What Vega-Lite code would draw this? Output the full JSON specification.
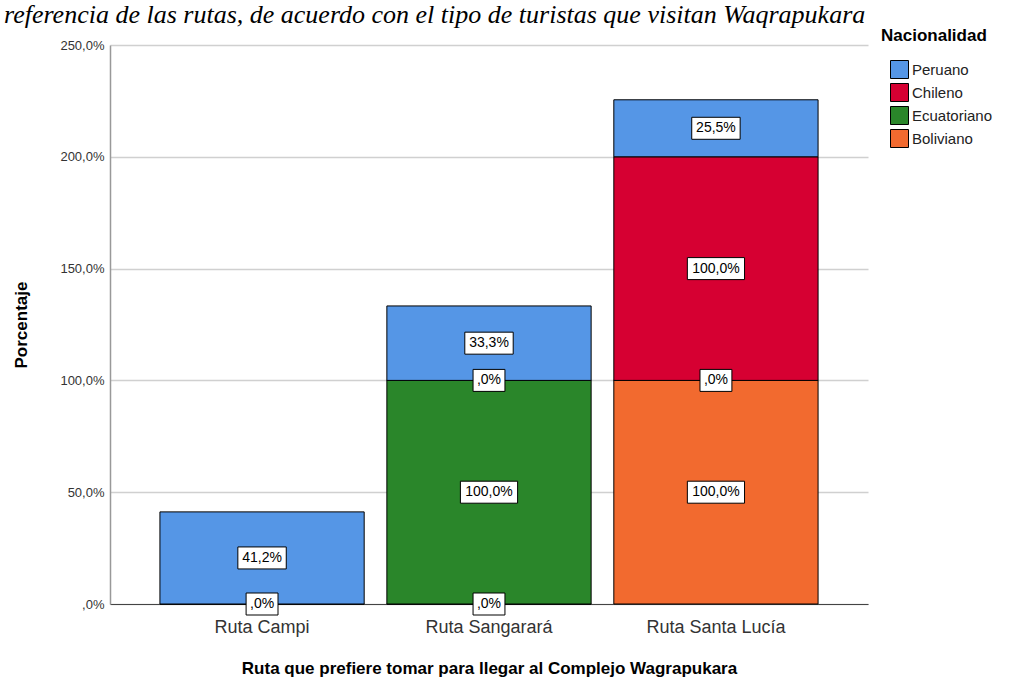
{
  "$schema": "https://vega.github.io/schema/vega-lite/v6.json",
  "width": 758,
  "height": 559,
  "autosize": "none",
  "padding": {"left": 110, "top": 45, "right": 154, "bottom": 77},
  "background": "white",
  "title": {
    "text": "referencia de las rutas, de acuerdo con el tipo de turistas que visitan Waqrapukara",
    "font": "Liberation Serif",
    "fontStyle": "italic",
    "fontWeight": "normal",
    "fontSize": 26,
    "color": "black",
    "anchor": "start",
    "frame": "group",
    "baseline": "top",
    "dx": -106,
    "offset": 0
  },
  "data": {
    "values": [
      {"ruta": "Ruta Campi", "nac": "Boliviano", "pct": 0},
      {"ruta": "Ruta Campi", "nac": "Peruano", "pct": 41.2},
      {"ruta": "Ruta Sangarará", "nac": "Boliviano", "pct": 0},
      {"ruta": "Ruta Sangarará", "nac": "Ecuatoriano", "pct": 100},
      {"ruta": "Ruta Sangarará", "nac": "Chileno", "pct": 0},
      {"ruta": "Ruta Sangarará", "nac": "Peruano", "pct": 33.3},
      {"ruta": "Ruta Santa Lucía", "nac": "Boliviano", "pct": 100},
      {"ruta": "Ruta Santa Lucía", "nac": "Ecuatoriano", "pct": 0},
      {"ruta": "Ruta Santa Lucía", "nac": "Chileno", "pct": 100},
      {"ruta": "Ruta Santa Lucía", "nac": "Peruano", "pct": 25.5}
    ]
  },
  "transform": [
    {"calculate": "indexof(['Boliviano','Ecuatoriano','Chileno','Peruano'], datum.nac)", "as": "ord"},
    {"stack": "pct", "groupby": ["ruta"], "sort": [{"field": "ord", "order": "ascending"}], "as": ["y0", "y1"]},
    {"calculate": "(datum.y0 + datum.y1) / 2", "as": "mid"},
    {"calculate": "datum.pct == 0 ? ',0%' : replace(format(datum.pct, '.1f'), '.', ',') + '%'", "as": "label"}
  ],
  "encoding": {
    "x": {
      "field": "ruta",
      "type": "nominal",
      "sort": ["Ruta Campi", "Ruta Sangarará", "Ruta Santa Lucía"],
      "scale": {"paddingInner": 0.1, "paddingOuter": 0.22},
      "axis": {
        "title": "Ruta que prefiere tomar para llegar al Complejo Wagrapukara",
        "titleFont": "Liberation Sans",
        "titleFontSize": 17,
        "titleFontWeight": "bold",
        "titleColor": "black",
        "titlePadding": 24,
        "labelFont": "Liberation Sans",
        "labelFontSize": 18,
        "labelColor": "#333333",
        "labelAngle": 0,
        "labelPadding": 14,
        "ticks": false,
        "domainColor": "#444444",
        "domainWidth": 1.2
      }
    }
  },
  "layer": [
    {
      "mark": {"type": "bar", "stroke": "black", "strokeWidth": 1},
      "encoding": {
        "y": {
          "field": "y0",
          "type": "quantitative",
          "scale": {"domain": [0, 250], "nice": false},
          "axis": {
            "title": "Porcentaje",
            "titleFont": "Liberation Sans",
            "titleFontSize": 17,
            "titleFontWeight": "bold",
            "titleColor": "black",
            "titlePadding": 29,
            "values": [0, 50, 100, 150, 200, 250],
            "labelExpr": "datum.value == 0 ? ',0%' : replace(format(datum.value, '.1f'), '.', ',') + '%'",
            "labelFont": "Liberation Sans",
            "labelFontSize": 13,
            "labelColor": "#333333",
            "labelPadding": 6,
            "ticks": false,
            "grid": true,
            "gridColor": "#d0d0d0",
            "gridWidth": 1.5,
            "domainColor": "#999999",
            "domainWidth": 1.5
          }
        },
        "y2": {"field": "y1"},
        "color": {
          "field": "nac",
          "type": "nominal",
          "scale": {
            "domain": ["Peruano", "Chileno", "Ecuatoriano", "Boliviano"],
            "range": ["#5596e6", "#d60032", "#2a862a", "#f26a2f"]
          },
          "legend": {
            "title": "Nacionalidad",
            "orient": "none",
            "legendX": 771,
            "legendY": -17,
            "titleFont": "Liberation Sans",
            "titleFontSize": 17,
            "titleFontWeight": "bold",
            "titleColor": "black",
            "titlePadding": 15,
            "labelFont": "Liberation Sans",
            "labelFontSize": 15,
            "labelColor": "#222222",
            "labelOffset": 3,
            "symbolType": "square",
            "symbolSize": 324,
            "symbolOffset": 9,
            "symbolStrokeColor": "black",
            "symbolStrokeWidth": 1,
            "rowPadding": 0
          }
        }
      }
    },
    {
      "mark": {"type": "point", "filled": true, "fill": "white", "stroke": "black", "strokeWidth": 1, "opacity": 1, "size": 484},
      "encoding": {
        "y": {"field": "mid", "type": "quantitative"},
        "shape": {
          "field": "label",
          "type": "nominal",
          "scale": {
            "domain": [",0%", "41,2%", "33,3%", "25,5%", "100,0%"],
            "range": [
              "M-1.45,-1L1.45,-1L1.45,1L-1.45,1Z",
              "M-2.2,-1L2.2,-1L2.2,1L-2.2,1Z",
              "M-2.2,-1L2.2,-1L2.2,1L-2.2,1Z",
              "M-2.2,-1L2.2,-1L2.2,1L-2.2,1Z",
              "M-2.6,-1L2.6,-1L2.6,1L-2.6,1Z"
            ]
          },
          "legend": null
        }
      }
    },
    {
      "mark": {"type": "text", "font": "Liberation Sans", "fontSize": 14, "color": "black", "baseline": "middle", "align": "center"},
      "encoding": {
        "y": {"field": "mid", "type": "quantitative"},
        "text": {"field": "label"}
      }
    }
  ],
  "config": {
    "view": {"stroke": null}
  }
}
